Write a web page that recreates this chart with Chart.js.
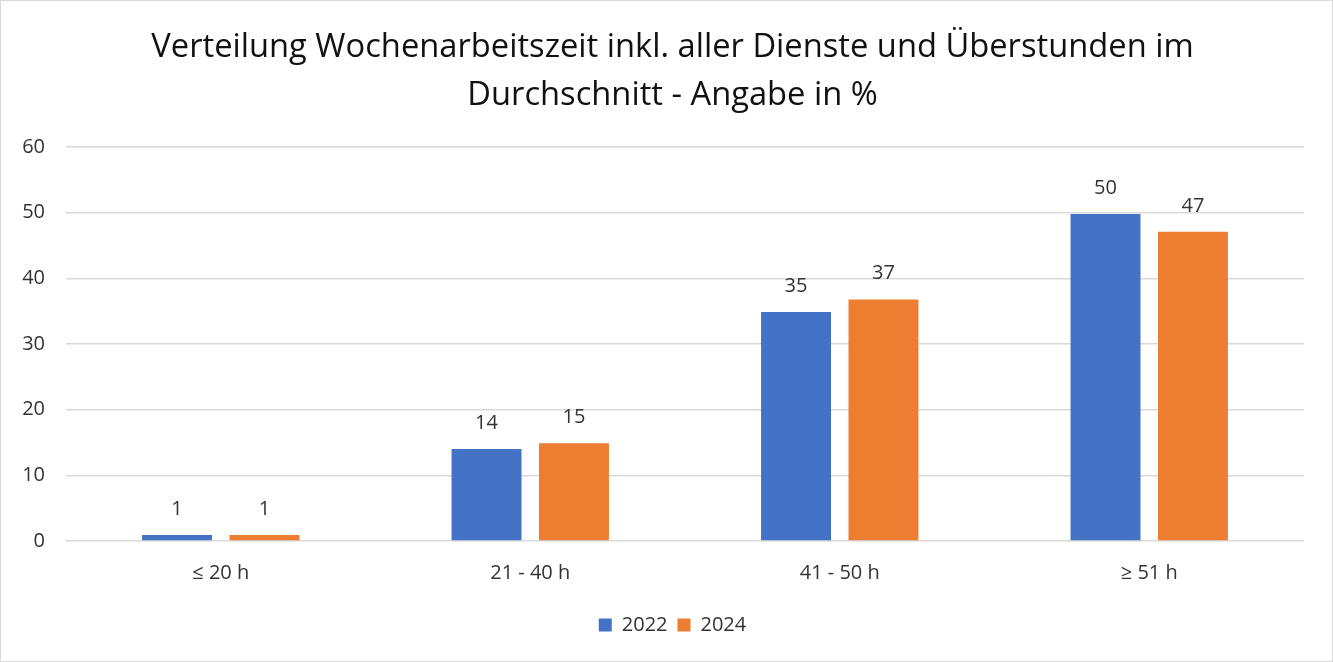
<!DOCTYPE html>
<html>
<head>
<meta charset="utf-8">
<script src="https://cdn.jsdelivr.net/npm/chart.js@4"></script>
<style>
  html, body { margin: 0; padding: 0; background: #fff; }
  #wrap { position: relative; width: 1333px; height: 662px; box-sizing: border-box; border: 1px solid #D9D9D9; }
  canvas { display: block; }
</style>
</head>
<body>
<div id="wrap"><canvas id="c" width="1331" height="660"></canvas></div>
<script>
const categories = ['≤ 20 h', '21 - 40 h', '41 - 50 h', '≥ 51 h'];
const values2022 = [0.9, 14, 34.9, 49.8];
const values2024 = [0.9, 14.9, 36.8, 47.1];
const labels2022 = ['1', '14', '35', '50'];
const labels2024 = ['1', '15', '37', '47'];
const seriesNames = ['2022', '2024'];
const yTicks = [0, 10, 20, 30, 40, 50, 60];
const titleLines = ['Verteilung Wochenarbeitszeit inkl. aller Dienste und Überstunden im', 'Durchschnitt - Angabe in %'];

const FONT = '"Open Sans", Lato, sans-serif';
const TEXT = '#333333';

const valueLabels = {
  id: 'valueLabels',
  afterDatasetsDraw(chart) {
    const ctx = chart.ctx;
    const lbls = [labels2022, labels2024];
    ctx.save();
    ctx.font = '20px ' + FONT;
    ctx.fillStyle = TEXT;
    ctx.textAlign = 'center';
    ctx.textBaseline = 'middle';
    chart.data.datasets.forEach((ds, i) => {
      const meta = chart.getDatasetMeta(i);
      meta.data.forEach((bar, j) => {
        ctx.fillText(lbls[i][j], bar.x, bar.y - 26);
      });
    });
    ctx.restore();
  }
};

// centre title and legend on the whole frame, as in the reference
const shiftBlocks = {
  id: 'shiftBlocks',
  afterLayout(chart) {
    if (chart.titleBlock) chart.titleBlock.left = 40;
    if (chart.legend) chart.legend.left = 40;
  }
};

new Chart(document.getElementById('c'), {
  type: 'bar',
  data: {
    labels: categories,
    datasets: [
      { label: seriesNames[0], data: values2022, backgroundColor: '#4472C4', categoryPercentage: 0.565, barPercentage: 0.8 },
      { label: seriesNames[1], data: values2024, backgroundColor: '#ED7D31', categoryPercentage: 0.565, barPercentage: 0.8 }
    ]
  },
  options: {
    responsive: false,
    animation: false,
    layout: { padding: { left: 0, right: 28, top: 0, bottom: 16 } },
    plugins: {
      title: {
        display: true,
        text: titleLines,
        color: '#111111',
        font: { family: FONT, size: 32.7, weight: 'normal', lineHeight: 1.47 },
        padding: { top: 23, bottom: 27 }
      },
      legend: {
        display: true,
        position: 'bottom',
        labels: {
          color: TEXT,
          font: { family: FONT, size: 20 },
          boxWidth: 13, boxHeight: 13,
          padding: 10
        }
      },
      tooltip: { enabled: false }
    },
    scales: {
      x: {
        grid: { display: false, drawTicks: false },
        border: { display: false },
        ticks: { color: TEXT, font: { family: FONT, size: 20 }, padding: 20 },
        afterFit(scale) { scale.height = 64; }
      },
      y: {
        min: 0, max: 60,
        afterBuildTicks(scale) { scale.ticks = yTicks.map(v => ({ value: v })); },
        grid: { color: '#D9D9D9', lineWidth: 1.5, drawTicks: false },
        border: { display: false },
        ticks: { color: TEXT, font: { family: FONT, size: 20 }, padding: 21 },
        afterFit(scale) { scale.width = 65; }
      }
    }
  },
  plugins: [valueLabels, shiftBlocks]
});
</script>
</body>
</html>
